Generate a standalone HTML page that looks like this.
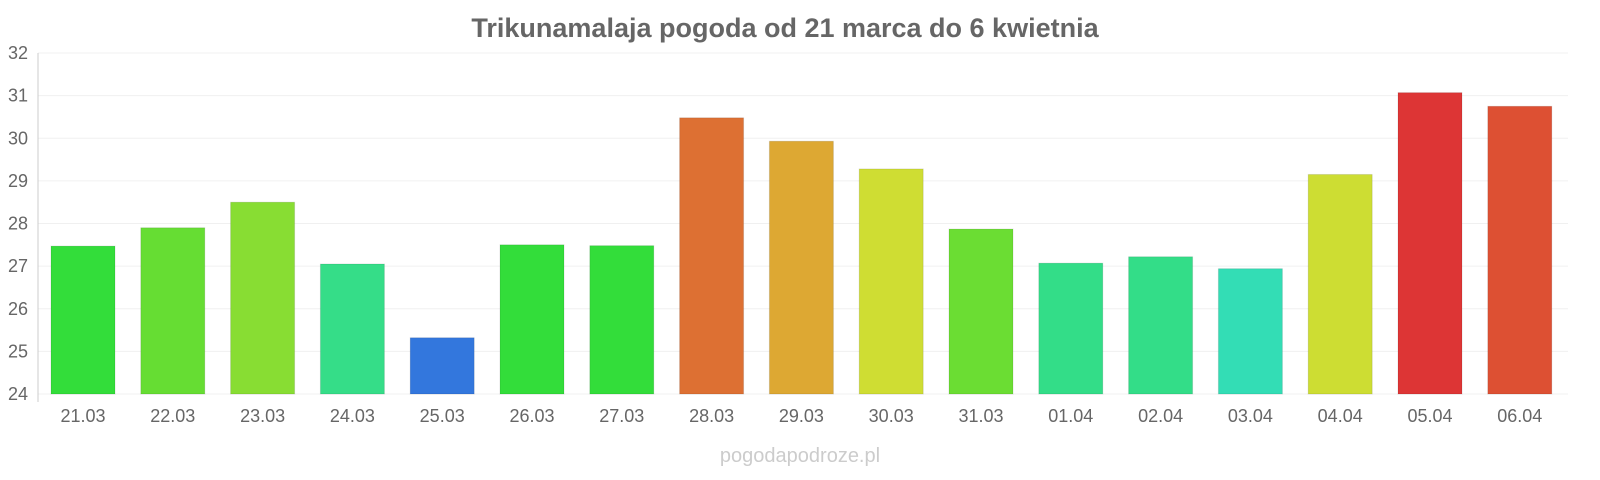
<!DOCTYPE html>
<html><head><meta charset="utf-8"><style>
body{margin:0;background:#fff;width:1600px;height:480px;overflow:hidden}
svg{display:block;font-family:"Liberation Sans",sans-serif}
</style></head><body>
<svg id="chart" width="1600" height="480">
<text x="785" y="37" text-anchor="middle" font-size="27" font-weight="bold" fill="#666">Trikunamalaja pogoda od 21 marca do 6 kwietnia</text>
<text x="800" y="462" text-anchor="middle" font-size="20" fill="#ccc">pogodapodroze.pl</text>
<g id="grid"></g><g id="bars"></g><g id="xlabels"></g><g id="ylabels"></g>
<line x1="38" y1="53" x2="38" y2="402" stroke="#ccc"/>
</svg>
<script>
const categories=["21.03","22.03","23.03","24.03","25.03","26.03","27.03","28.03","29.03","30.03","31.03","01.04","02.04","03.04","04.04","05.04","06.04"];
const values=[27.47,27.9,28.5,27.05,25.32,27.5,27.48,30.48,29.93,29.28,27.87,27.07,27.22,26.94,29.15,31.07,30.75];
const colors=["#33dd3a","#66dd33","#88dd33","#35dd88","#3377dd","#33dd3a","#33dd3a","#dd7033","#dda833","#cfdd33","#6bdd33","#33dd88","#33dd88","#33ddb5","#cddd33","#dd3535","#dd5033"];
const yTicks=[24,25,26,27,28,29,30,31,32];
const NS="http://www.w3.org/2000/svg";
const y=v=>394-(v-24)*42.625;
const x=i=>83+i*89.8;
function mk(t,a,p){const e=document.createElementNS(NS,t);for(const k in a)e.setAttribute(k,a[k]);document.getElementById(p).appendChild(e);return e;}
yTicks.forEach(t=>{
 const l=mk("line",{x1:38,x2:1568,y1:y(t),y2:y(t),stroke:"#f0f0f0"},"grid");
 
 
 const tx=mk("text",{x:28,y:y(t)+6,"text-anchor":"end","font-size":18,fill:"#666"},"ylabels");
 tx.textContent=t;
 
 
});
categories.forEach((c,i)=>{
 const b=mk("rect",{x:x(i)-32,y:y(values[i]),width:64,height:394-y(values[i]),fill:colors[i],stroke:"rgba(0,0,0,0.1)"},"bars");
 
 
 const t=mk("text",{x:x(i),y:422,"text-anchor":"middle","font-size":18,fill:"#666"},"xlabels");
 t.textContent=c;
 
 
});
</script>
</body></html>
